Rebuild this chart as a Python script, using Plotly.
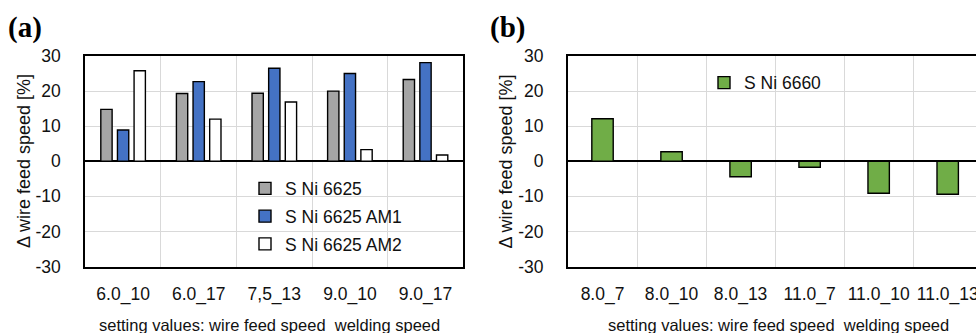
import plotly.graph_objects as go

# ---- data -------------------------------------------------------------
settings_a = ["6.0_10", "6.0_17", "7,5_13", "9.0_10", "9.0_17"]
sni6625 = [14.8, 19.3, 19.4, 20.0, 23.3]
sni6625_am1 = [8.9, 22.7, 26.5, 25.0, 28.1]
sni6625_am2 = [25.8, 12.0, 16.9, 3.3, 1.8]

settings_b = ["8.0_7", "8.0_10", "8.0_13", "11.0_7", "11.0_10", "11.0_13"]
sni6660 = [12.1, 2.7, -4.4, -1.7, -9.1, -9.4]

y_ticks = [-30, -20, -10, 0, 10, 20, 30]
y_tick_labels = ["-30", "-20", "-10", "0", "10", "20", "30"]

# ---- styling ----------------------------------------------------------
W, H = 976, 333
FONT = "Liberation Sans, Arial, sans-serif"
TXT = "#111111"
GRID = "#d9d9d9"
OUTLINE = dict(color="black", width=1.4)


def px(x):
    return x / W


def py(y):
    return (H - y) / H


fig = go.Figure()

fig.add_trace(go.Bar(x=settings_a, y=sni6625, name="S Ni 6625",
                     marker=dict(color="#a5a5a5", line=OUTLINE),
                     legendgroup="g1", xaxis="x", yaxis="y", legend="legend"))
fig.add_trace(go.Bar(x=settings_a, y=sni6625_am1, name="S Ni 6625 AM1",
                     marker=dict(color="#4472c4", line=OUTLINE),
                     legendgroup="g2", xaxis="x", yaxis="y", legend="legend"))
fig.add_trace(go.Bar(x=settings_a, y=sni6625_am2, name="S Ni 6625 AM2",
                     marker=dict(color="#ffffff", line=OUTLINE),
                     legendgroup="g3", xaxis="x", yaxis="y", legend="legend"))
fig.add_trace(go.Bar(x=settings_b, y=sni6660, name="S Ni 6660", width=0.31,
                     marker=dict(color="#70ad47", line=OUTLINE),
                     xaxis="x2", yaxis="y2", legend="legend2"))

tick_font = dict(family=FONT, size=17.5, color=TXT)

xcommon = dict(type="category", tickson="boundaries", showgrid=True,
               gridcolor=GRID, gridwidth=1.3, showline=True, linecolor="black",
               linewidth=2, mirror=True, ticks="", tickfont=tick_font,
               tickangle=0, ticklabelstandoff=10, automargin=False,
               fixedrange=True)
ycommon = dict(range=[-30, 30], tickvals=y_ticks, ticktext=y_tick_labels,
               showgrid=True, gridcolor=GRID, gridwidth=1.3, zeroline=True,
               zerolinecolor="black", zerolinewidth=1.6, showline=True,
               linecolor="black", linewidth=2, ticks="", tickfont=tick_font,
               ticklabelstandoff=19, automargin=False, fixedrange=True)

plot_top, plot_bot = 56, 266.5

fig.update_layout(
    width=W, height=H, autosize=False,
    margin=dict(l=0, r=0, t=0, b=0, pad=0),
    paper_bgcolor="white", plot_bgcolor="white",
    barmode="group", bargap=0.34, bargroupgap=0.32,
    xaxis=dict(xcommon, domain=[px(85.3), px(463.3)], anchor="y",
               range=[-0.5, 4.5]),
    yaxis=dict(ycommon, domain=[py(plot_bot), py(plot_top)], anchor="x",
               mirror=True),
    xaxis2=dict(xcommon, domain=[px(568), 1.0], anchor="y2",
                range=[-0.5, 5.41]),
    yaxis2=dict(ycommon, domain=[py(plot_bot), py(plot_top)], anchor="x2",
                mirror=False),
    legend=dict(x=px(245), xanchor="left", y=py(216.5), yanchor="middle",
                bgcolor="rgba(255,255,255,0)", borderwidth=0,
                font=dict(family=FONT, size=17.5, color=TXT),
                traceorder="grouped", tracegroupgap=2),
    legend2=dict(x=px(704), xanchor="left", y=py(82.7), yanchor="middle",
                 bgcolor="rgba(255,255,255,0)", borderwidth=0,
                 font=dict(family=FONT, size=17.5, color=TXT)),
    showlegend=True,
)

# white panels behind the legends that hide the grid
fig.add_shape(type="rect", xref="paper", yref="paper", layer="between",
              x0=px(227), x1=px(437), y0=py(plot_bot), y1=py(175),
              fillcolor="white", line=dict(width=0))
fig.add_shape(type="rect", xref="paper", yref="paper", layer="between",
              x0=px(686), x1=px(855), y0=py(100), y1=py(65),
              fillcolor="white", line=dict(width=0))

ytitle_font = dict(family=FONT, size=18, color=TXT)
xtitle_font = dict(family=FONT, size=16.5, color=TXT)
panel_font = dict(family="Liberation Serif, Times New Roman, serif",
                  size=29, color="black")

annotations = [
    dict(text="<b>(a)</b>", x=px(25), y=py(28), font=panel_font),
    dict(text="<b>(b)</b>", x=px(507.5), y=py(28), font=panel_font),
    dict(text="Δ wire feed speed [%]", x=px(23.5), y=py(161.5),
         textangle=-90, font=ytitle_font),
    dict(text="Δ wire feed speed [%]", x=px(505), y=py(161.5),
         textangle=-90, font=ytitle_font),
    dict(text="setting values: wire feed speed_welding speed", x=px(269),
         y=py(325.5), font=xtitle_font),
    dict(text="setting values: wire feed speed_welding speed", x=px(778.5),
         y=py(325.5), font=xtitle_font),
]
for a in annotations:
    fig.add_annotation(xref="paper", yref="paper", showarrow=False,
                       xanchor="center", yanchor="middle", **a)

fig.write_html("out.html")
